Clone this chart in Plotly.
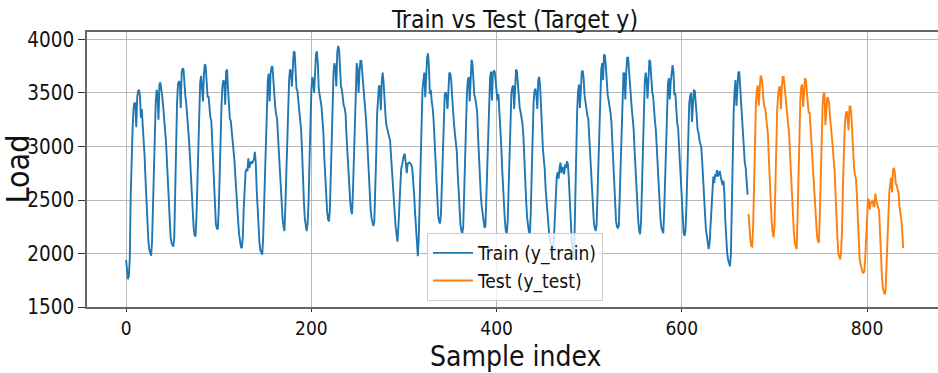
import numpy as np
import plotly.graph_objects as go

# ---- data (hourly samples, 24 per row) ----
train_week1 = [
    1940, 1800, 1760, 1790, 1950, 2540, 2910, 3160, 3350, 3410, 3400, 3180, 3460, 3520, 3530, 3470, 3270, 3350, 3190, 3070, 2910, 2690, 2470, 2290,
    2130, 2040, 1990, 1980, 2100, 2470, 2910, 3220, 3410, 3530, 3480, 3250, 3580, 3600, 3550, 3470, 3380, 3300, 3160, 3060, 2850, 2630, 2410, 2220,
    2160, 2100, 2070, 2065, 2150, 2600, 3060, 3400, 3580, 3610, 3600, 3360, 3690, 3730, 3720, 3560, 3470, 3400, 3300, 3200, 3050, 2900, 2700, 2500,
    2350, 2230, 2170, 2160, 2350, 2720, 3070, 3410, 3600, 3660, 3530, 3420, 3660, 3770, 3750, 3550, 3460, 3470, 3360, 3270, 3240, 3030, 2750, 2540,
    2350, 2270, 2235, 2224, 2400, 2800, 3150, 3380, 3560, 3620, 3600, 3390, 3700, 3720, 3550, 3400, 3260, 3240, 3140, 3110, 3000, 2870, 2720, 2550,
    2420, 2300, 2180, 2100, 2060, 2050, 2150, 2420, 2620, 2760, 2790, 2770, 2890, 2800, 2830, 2860, 2840, 2870, 2880, 2950, 2850, 2600, 2380, 2200,
    2100, 2030, 2000, 1990, 2150, 2500, 2850, 3200, 3470, 3620, 3680, 3420, 3680, 3740, 3750, 3620, 3410, 3370, 3300, 3260, 3100, 2930, 2800, 2620,
]
train_week2 = [
    2480, 2320, 2250, 2210, 2450, 2800, 3150, 3430, 3620, 3720, 3700, 3560, 3800, 3890, 3880, 3700, 3540, 3520, 3420, 3350, 3300, 3150, 2950, 2650,
    2480, 2320, 2240, 2210, 2280, 2480, 2850, 3320, 3520, 3650, 3610, 3500, 3700, 3860, 3890, 3780, 3540, 3480, 3420, 3370, 3250, 3130, 2900, 2700,
    2520, 2400, 2320, 2300, 2400, 2700, 3100, 3450, 3700, 3780, 3720, 3560, 3880, 3940, 3900, 3740, 3560, 3530, 3440, 3380, 3360, 3300, 3100, 2920,
    2780, 2620, 2480, 2400, 2370, 2600, 2950, 3300, 3600, 3780, 3720, 3500, 3700, 3800, 3800, 3700, 3560, 3480, 3400, 3260, 3110, 2900, 2700, 2520,
    2420, 2330, 2280, 2256, 2300, 2560, 2900, 3300, 3500, 3570, 3560, 3340, 3600, 3690, 3600, 3380, 3300, 3200, 3150, 3130, 3090, 3060, 2900, 2750,
    2600, 2500, 2380, 2250, 2160, 2110, 2250, 2450, 2650, 2790, 2830, 2890, 2920, 2930, 2860, 2750, 2840, 2850, 2850, 2840, 2830, 2790, 2700, 2550,
    2380, 2200, 2050, 1975, 2150, 2550, 2950, 3300, 3530, 3620, 3690, 3460, 3720, 3830, 3870, 3740, 3490, 3530, 3420, 3360, 3250, 3080, 2850, 2620,
]
train_week3 = [
    2450, 2350, 2300, 2280, 2380, 2700, 3050, 3350, 3480, 3510, 3470, 3350, 3580, 3690, 3680, 3620, 3470, 3280, 3220, 3120, 3050, 2960, 2760, 2560,
    2380, 2270, 2210, 2190, 2250, 2550, 2950, 3300, 3500, 3620, 3650, 3420, 3720, 3810, 3770, 3600, 3480, 3450, 3360, 3330, 3100, 2880, 2700, 2540,
    2440, 2350, 2280, 2240, 2260, 2550, 2900, 3300, 3530, 3650, 3700, 3430, 3680, 3710, 3700, 3600, 3480, 3430, 3490, 3350, 3200, 3020, 2800, 2600,
    2450, 2300, 2210, 2180, 2300, 2650, 3000, 3330, 3500, 3550, 3570, 3350, 3650, 3720, 3700, 3560, 3440, 3360, 3320, 3270, 3210, 3090, 2850, 2660,
    2480, 2330, 2240, 2200, 2190, 2400, 2780, 3150, 3420, 3520, 3540, 3480, 3350, 3620, 3650, 3570, 3320, 3150, 2980, 2880, 2790, 2600, 2470, 2330,
    2220, 2160, 2110, 2080, 2069, 2060, 2150, 2350, 2550, 2720, 2760, 2700, 2800, 2850, 2750, 2810, 2790, 2740, 2830, 2800, 2860, 2840, 2700, 2480,
    2300, 2150, 2020, 1950, 2100, 2550, 2950, 3330, 3520, 3580, 3360, 3640, 3700, 3710, 3640, 3480, 3400, 3330, 3290, 3260, 3100, 2900, 2700, 2540,
]
train_week4 = [
    2380, 2300, 2240, 2210, 2260, 2550, 2900, 3300, 3600, 3720, 3780, 3620, 3860, 3850, 3750, 3580, 3480, 3430, 3390, 3320, 3230, 3050, 2800, 2560,
    2400, 2300, 2250, 2240, 2260, 2550, 2950, 3330, 3600, 3690, 3680, 3440, 3700, 3830, 3830, 3700, 3530, 3490, 3350, 3260, 3160, 2970, 2780, 2600,
    2450, 2300, 2210, 2180, 2300, 2600, 3000, 3350, 3600, 3690, 3620, 3450, 3720, 3810, 3790, 3600, 3510, 3470, 3320, 3240, 3150, 2970, 2820, 2610,
    2450, 2320, 2240, 2200, 2190, 2400, 2750, 3150, 3450, 3580, 3640, 3440, 3600, 3720, 3760, 3700, 3480, 3500, 3300, 3220, 3170, 3000, 2800, 2580,
    2400, 2260, 2190, 2165, 2220, 2450, 2850, 3250, 3400, 3470, 3500, 3230, 3480, 3530, 3520, 3440, 3300, 3160, 3130, 3060, 3010, 2990, 2860, 2660,
    2530, 2380, 2230, 2150, 2080, 2040, 2100, 2250, 2450, 2650, 2720, 2660, 2740, 2720, 2780, 2720, 2750, 2770, 2720, 2670, 2640, 2680, 2550, 2300,
    2120, 2000, 1940, 1890, 1880, 2000, 2450, 3030, 3330, 3520, 3620, 3380, 3570, 3690, 3700, 3560, 3420, 3270, 3110, 2940, 2850, 2800, 2650, 2550,
]
test_week = [
    2370, 2220, 2130, 2070, 2065, 2250, 2700, 3150, 3400, 3530, 3570, 3380, 3550, 3660, 3650, 3580, 3450, 3370, 3360, 3250, 3190, 3110, 2880, 2650,
    2460, 2300, 2200, 2150, 2250, 2700, 3050, 3350, 3480, 3550, 3560, 3350, 3560, 3650, 3650, 3560, 3440, 3400, 3300, 3190, 3100, 2900, 2700, 2480,
    2350, 2200, 2100, 2060, 2040, 2350, 2700, 3200, 3450, 3560, 3580, 3370, 3560, 3640, 3620, 3520, 3350, 3310, 3320, 3160, 3050, 2950, 2800, 2600,
    2410, 2260, 2160, 2115, 2100, 2350, 2800, 3200, 3380, 3490, 3500, 3200, 3310, 3460, 3450, 3410, 3280, 3200, 3130, 2990, 2870, 2780, 2550, 2250,
    2150, 2000, 1960, 1945, 2020, 2220, 2650, 3000, 3200, 3300, 3330, 3260, 3150, 3370, 3380, 3300, 3100, 2930, 2800, 2730, 2700, 2550, 2320, 2050,
    1950, 1900, 1850, 1830, 1820, 1830, 1950, 2150, 2400, 2510, 2500, 2410, 2480, 2470, 2500, 2440, 2440, 2560, 2490, 2460, 2450, 2400, 2200, 1950,
    1800, 1680, 1630, 1617, 1660, 1900, 2200, 2400, 2570, 2650, 2710, 2570, 2780, 2800, 2760, 2650, 2640, 2600, 2570, 2440, 2390, 2320, 2200, 2050,
]

y_train = train_week1 + train_week2 + train_week3 + train_week4
y_test = test_week
x_train = np.arange(len(y_train))
x_test = np.arange(len(y_train), len(y_train) + len(y_test))

x_ticks = [0, 200, 400, 600, 800]
y_ticks = [1500, 2000, 2500, 3000, 3500, 4000]

FONT = "DejaVu Sans Condensed, Liberation Sans Narrow, DejaVu Sans, sans-serif"

W, H = 938, 373
L, T, R, B = 87, 32, 0, 66
PW, PH = W - L - R, H - T - B


def px_x(page_x):
    return (page_x - L) / PW


def px_y(page_y):
    return (T + PH - page_y) / PH


fig = go.Figure()
fig.add_trace(go.Scatter(x=x_train, y=y_train, mode="lines", name="Train (y_train)",
                         line=dict(color="#1f77b4", width=1.9)))
fig.add_trace(go.Scatter(x=x_test, y=y_test, mode="lines", name="Test (y_test)",
                         line=dict(color="#ff7f0e", width=1.9)))

fig.update_layout(
    width=W, height=H,
    margin=dict(l=L, r=R, t=T, b=B, autoexpand=False),
    paper_bgcolor="white", plot_bgcolor="white",
    font=dict(family=FONT, color="#111111"),
    title=dict(text="Train vs Test (Target y)", x=515 / W, xref="container", xanchor="center",
               y=1 - 19 / H, yref="container", yanchor="middle",
               font=dict(size=24.5, family=FONT, color="#111111")),
    showlegend=True,
    legend=dict(x=px_x(515), y=px_y(267), xanchor="center", yanchor="middle",
                bgcolor="rgba(255,255,255,0.8)", bordercolor="#cccccc", borderwidth=1,
                itemwidth=40, font=dict(size=19, family=FONT, color="#111111")),
)
fig.update_xaxes(range=[-42.2, 876.6], tickvals=x_ticks, ticks="outside", ticklen=3, tickwidth=1.3,
                 tickcolor="#333", tickfont=dict(size=19), showgrid=True, gridcolor="#b8b8b8",
                 gridwidth=1, showline=True, linecolor="#666666", linewidth=2, mirror=True,
                 zeroline=False, automargin=False)
fig.update_yaxes(range=[1500, 4070], tickvals=y_ticks, ticks="outside", ticklen=7, tickwidth=1.3,
                 tickcolor="#333", tickfont=dict(size=20.5), showgrid=True, gridcolor="#b8b8b8",
                 gridwidth=1, showline=True, linecolor="#666666", linewidth=1.5,
                 zeroline=False, automargin=False)

fig.add_annotation(text="Load", x=px_x(17), y=px_y(169.5), xref="paper", yref="paper",
                   xanchor="center", yanchor="middle",
                   showarrow=False, textangle=-90, font=dict(size=32, family=FONT, color="#111111"))
fig.add_annotation(text="Sample index", x=px_x(515), y=px_y(356), xref="paper", yref="paper",
                   xanchor="center", yanchor="middle",
                   showarrow=False, font=dict(size=28, family=FONT, color="#111111"))

fig.write_html("out.html", config={"displayModeBar": False},
               post_script="document.body.style.margin='0px';")
